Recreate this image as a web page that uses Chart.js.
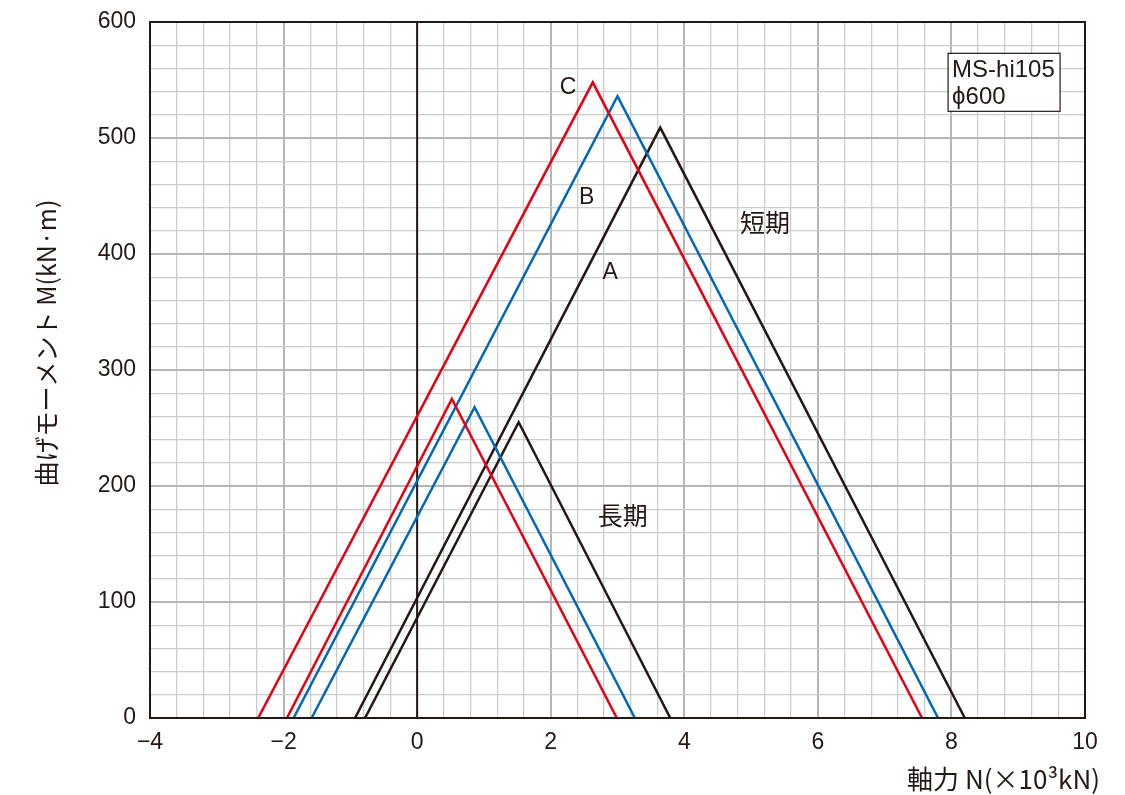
<!DOCTYPE html>
<html>
<head>
<meta charset="utf-8">
<script src="https://cdn.jsdelivr.net/npm/chart.js@4"></script>
<style>
  html, body { margin: 0; padding: 0; background: #fff; }
  #wrap { width: 1125px; height: 795px; }
</style>
</head>
<body>
<div id="wrap"><canvas id="c" width="1125" height="795"></canvas></div>
<script>
// 軸力 N (x10^3 kN) と 曲げモーメント M (kN·m)
const longRedX = [-1.95, 0.52, 2.99];
const longRedY = [0, 275, 0];
const longBlueX = [-1.58, 0.86, 3.26];
const longBlueY = [0, 268, 0];
const longBlackX = [-0.78, 1.52, 3.79];
const longBlackY = [0, 255, 0];

const shortRedX = [-2.38, 2.63, 7.56];
const shortRedY = [0, 548, 0];
const shortBlueX = [-1.85, 3.0, 7.80];
const shortBlueY = [0, 536, 0];
const shortBlackX = [-0.93, 3.64, 8.20];
const shortBlackY = [0, 509, 0];

const xTicks = [-4, -2, 0, 2, 4, 6, 8, 10];
const yTicks = [0, 100, 200, 300, 400, 500, 600];

const notes = [
  { text: 'C', x: 2.26, y: 543 },
  { text: 'B', x: 2.54, y: 449 },
  { text: 'A', x: 2.89, y: 384 },
  { text: '短期', x: 5.21, y: 425 },
  { text: '長期', x: 3.08, y: 172 },
];
const boxLines = ['MS-hi105', 'ϕ600'];

const RED = '#e60012', BLUE = '#0068b7', BLACK = '#231815';
const FONT = '"Liberation Sans", "Noto Sans CJK JP", sans-serif';
const JFONT = '"Noto Sans CJK JP", "Liberation Sans", sans-serif';

function pts(xs, ys) { return xs.map((x, i) => ({ x, y: ys[i] })); }
function ds(xs, ys, color) {
  return { data: pts(xs, ys), borderColor: color, borderWidth: 2.5, pointRadius: 0, showLine: true, fill: false, tension: 0 };
}
function isMajor(v, step) { return Math.abs(v / step - Math.round(v / step)) < 1e-6; }

const overlay = {
  id: 'overlay',
  beforeDatasetsDraw(chart) {
    const { ctx, chartArea: a, scales } = chart;
    const x0 = scales.x.getPixelForValue(0);
    ctx.save();
    ctx.strokeStyle = BLACK; ctx.lineWidth = 2;
    ctx.beginPath(); ctx.moveTo(x0, a.top); ctx.lineTo(x0, a.bottom); ctx.stroke();
    ctx.restore();
  },
  afterDraw(chart) {
    const { ctx, chartArea: a, scales } = chart;
    const sx = scales.x, sy = scales.y;
    ctx.save();
    // frame
    ctx.strokeStyle = BLACK; ctx.lineWidth = 2;
    ctx.strokeRect(a.left, a.top, a.right - a.left, a.bottom - a.top);
    // annotations
    ctx.fillStyle = BLACK;
    ctx.textAlign = 'center'; ctx.textBaseline = 'middle';
    notes.forEach(n => {
      ctx.font = (n.text.length > 1 ? '25px ' : '23px ') + FONT;
      ctx.fillText(n.text, sx.getPixelForValue(n.x), sy.getPixelForValue(n.y));
    });
    // spec box
    const bx = sx.getPixelForValue(7.95), by = sy.getPixelForValue(573);
    ctx.fillStyle = '#fff';
    ctx.fillRect(bx, by, 112, 58);
    ctx.strokeStyle = BLACK; ctx.lineWidth = 1.2;
    ctx.strokeRect(bx, by, 112, 58);
    ctx.fillStyle = BLACK; ctx.textAlign = 'left'; ctx.textBaseline = 'alphabetic';
    ctx.font = '24px ' + FONT;
    boxLines.forEach((t, i) => ctx.fillText(t, bx + 4, by + 24 + i * 27));
    // axis titles
    ctx.font = '26px ' + JFONT;
    ctx.textAlign = 'right';
    ctx.fillText('軸力 N(×10³kN)', 1100, 789);
    ctx.font = '25px ' + JFONT;
    ctx.translate(46, 343);
    ctx.rotate(-Math.PI / 2);
    ctx.textAlign = 'center'; ctx.textBaseline = 'middle';
    ctx.fillText('曲げモーメント M(kN·m)', 0, 0);
    ctx.restore();
  }
};

new Chart(document.getElementById('c').getContext('2d'), {
  type: 'scatter',
  data: {
    datasets: [
      ds(longRedX, longRedY, RED), ds(longBlueX, longBlueY, BLUE), ds(longBlackX, longBlackY, BLACK),
      ds(shortRedX, shortRedY, RED), ds(shortBlueX, shortBlueY, BLUE), ds(shortBlackX, shortBlackY, BLACK),
    ],
  },
  options: {
    responsive: false,
    animation: false,
    layout: { padding: { left: 0, right: 40, top: 22, bottom: 0 } },
    plugins: { legend: { display: false }, tooltip: { enabled: false } },
    scales: {
      x: {
        type: 'linear', min: xTicks[0], max: xTicks[xTicks.length - 1],
        ticks: {
          stepSize: 0.4, autoSkip: false, maxRotation: 0, padding: 11,
          color: BLACK, font: { size: 23, family: FONT },
          callback: v => isMajor(v, 2) ? String(Math.round(v)).replace('-', '−') : '',
        },
        grid: {
          drawTicks: false,
          color: c => isMajor(c.tick.value, 2) ? '#b5b5b5' : '#cccccc',
          lineWidth: c => isMajor(c.tick.value, 2) ? 2 : 1.3,
        },
        border: { display: false },
        afterFit: s => { s.height = 77; s.paddingLeft = 0; s.paddingRight = 0; },
      },
      y: {
        type: 'linear', min: yTicks[0], max: yTicks[yTicks.length - 1],
        ticks: {
          stepSize: 20, autoSkip: false, padding: 14,
          color: BLACK, font: { size: 23, family: FONT },
          callback: v => isMajor(v, 100) ? String(Math.round(v)) : '',
        },
        grid: {
          drawTicks: false,
          color: c => isMajor(c.tick.value, 100) ? '#b5b5b5' : '#cccccc',
          lineWidth: c => isMajor(c.tick.value, 100) ? 2 : 1.3,
        },
        border: { display: false },
        afterFit: s => { s.width = 150; s.paddingTop = 0; s.paddingBottom = 0; },
      },
    },
  },
  plugins: [overlay],
});
</script>
</body>
</html>
